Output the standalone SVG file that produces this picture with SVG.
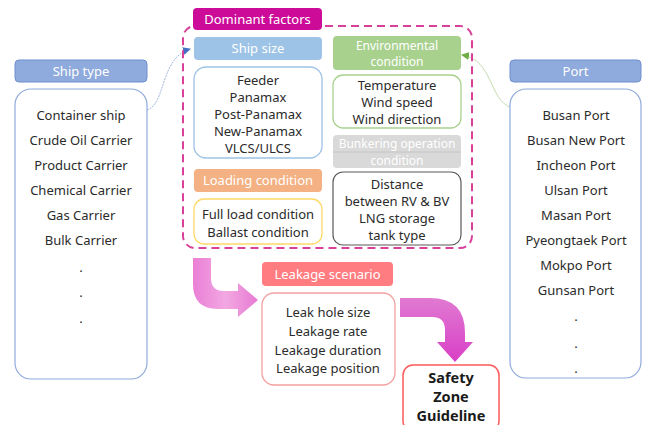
<svg xmlns="http://www.w3.org/2000/svg" width="650" height="425" viewBox="0 0 650 425">
<defs>
<style>
.t{font-family:"Noto Sans","Open Sans",sans-serif;font-size:13px;fill:#2b2b2b;text-anchor:middle}
.h{font-family:"Noto Sans","Open Sans",sans-serif;font-size:13px;fill:#ffffff;text-anchor:middle}
.h2{font-family:"Noto Sans","Open Sans",sans-serif;font-size:12px;fill:#ffffff;text-anchor:middle}
.b{font-family:"Noto Sans","Open Sans",sans-serif;font-size:14.5px;font-weight:bold;fill:#1a1a1a;text-anchor:middle}
</style>
<linearGradient id="g1" x1="0" y1="0" x2="1" y2="0">
<stop offset="0" stop-color="#ea7fd6"/><stop offset="0.5" stop-color="#f2a8e2"/><stop offset="1" stop-color="#e77ad3"/>
</linearGradient>
<linearGradient id="g2" x1="0" y1="0" x2="0" y2="1">
<stop offset="0" stop-color="#e07ad2"/><stop offset="1" stop-color="#d93fc6"/>
</linearGradient>
<marker id="mb" markerWidth="8" markerHeight="8" refX="7" refY="4" orient="auto" markerUnits="userSpaceOnUse">
<path d="M0,0 L8,4 L0,8 Z" fill="#4472c4"/>
</marker>
<marker id="mg" markerWidth="8" markerHeight="8" refX="7" refY="4" orient="auto" markerUnits="userSpaceOnUse">
<path d="M0,0 L8,4 L0,8 Z" fill="#70ad47"/>
</marker>
</defs>
<rect width="650" height="425" fill="#ffffff"/>

<g id="connectors">
<path d="M147,110 C166,104 160,58 190,49" fill="none" stroke="#9fb4dc" stroke-width="1" stroke-dasharray="2,1" marker-end="url(#mb)"/>
<path d="M512,108 C488,100 494,60 462,55" fill="none" stroke="#c5dcb0" stroke-width="1" marker-end="url(#mg)"/>
<path d="M193,258 L211,258 L211,278 Q211,291 224,291 L238,291 L238,283 L258,300 L238,317 L238,309 L218,309 Q193,309 193,284 Z" fill="url(#g1)"/>
<path d="M400,298 L430,298 Q465,298 465,333 L465,342 L473,342 L455,362 L437,342 L445,342 L445,330 Q445,317 432,317 L400,317 Z" fill="url(#g2)"/>
</g>

<g id="dominant">
<rect x="183" y="26" width="289" height="222" rx="12" fill="none" stroke="#d9409a" stroke-width="2" stroke-dasharray="8,5"/>
<rect x="193" y="8" width="129" height="22" rx="4" fill="#cc0c99"/>
<text class="h" x="257.5" y="24">Dominant factors</text>
</g>

<g id="ship-type">
<rect x="15" y="60" width="132" height="22" rx="4" fill="#8faadc" stroke="#6f8fcf" stroke-width="1"/>
<text class="h" x="81" y="76">Ship type</text>
<rect x="15" y="89" width="132" height="290" rx="16" fill="#ffffff" stroke="#8faadc" stroke-width="1.2"/>
<text class="t" x="81" y="120">Container ship</text>
<text class="t" x="81" y="145">Crude Oil Carrier</text>
<text class="t" x="81" y="170">Product Carrier</text>
<text class="t" x="81" y="195">Chemical Carrier</text>
<text class="t" x="81" y="220">Gas Carrier</text>
<text class="t" x="81" y="245">Bulk Carrier</text>
<text class="t" x="81" y="272">.</text>
<text class="t" x="81" y="297">.</text>
<text class="t" x="81" y="323">.</text>
</g>

<g id="port">
<rect x="510" y="60" width="131" height="22" rx="4" fill="#8faadc" stroke="#6f8fcf" stroke-width="1"/>
<text class="h" x="575.5" y="76">Port</text>
<rect x="510" y="89" width="131" height="289" rx="16" fill="#ffffff" stroke="#8faadc" stroke-width="1.2"/>
<text class="t" x="576" y="120">Busan Port</text>
<text class="t" x="576" y="145">Busan New Port</text>
<text class="t" x="576" y="170">Incheon Port</text>
<text class="t" x="576" y="195">Ulsan Port</text>
<text class="t" x="576" y="220">Masan Port</text>
<text class="t" x="576" y="245">Pyeongtaek Port</text>
<text class="t" x="576" y="270">Mokpo Port</text>
<text class="t" x="576" y="295">Gunsan Port</text>
<text class="t" x="576" y="321">.</text>
<text class="t" x="576" y="348">.</text>
<text class="t" x="576" y="373">.</text>
</g>

<g id="ship-size">
<rect x="194" y="37" width="128" height="23" rx="4" fill="#9dc3e6"/>
<text class="h" x="258" y="53">Ship size</text>
<rect x="194" y="67" width="128" height="91" rx="12" fill="#ffffff" stroke="#9dc3e6" stroke-width="1.3"/>
<text class="t" x="258" y="85">Feeder</text>
<text class="t" x="258" y="102">Panamax</text>
<text class="t" x="258" y="119">Post-Panamax</text>
<text class="t" x="258" y="136">New-Panamax</text>
<text class="t" x="258" y="153">VLCS/ULCS</text>
</g>

<g id="loading">
<rect x="194" y="169" width="128" height="23" rx="4" fill="#f4b183"/>
<text class="h" x="258" y="185">Loading condition</text>
<rect x="194" y="199" width="128" height="45" rx="10" fill="#ffffff" stroke="#ffd966" stroke-width="1.3"/>
<text class="t" x="258" y="219">Full load condition</text>
<text class="t" x="258" y="237">Ballast condition</text>
</g>

<g id="environment">
<rect x="333" y="36" width="128" height="34" rx="4" fill="#a9d18e"/>
<text class="h2" x="397" y="50">Environmental</text>
<text class="h2" x="397" y="66">condition</text>
<rect x="333" y="75" width="128" height="53" rx="10" fill="#ffffff" stroke="#a9d18e" stroke-width="1.3"/>
<text class="t" x="397" y="90">Temperature</text>
<text class="t" x="397" y="107">Wind speed</text>
<text class="t" x="397" y="124">Wind direction</text>
</g>

<g id="bunkering">
<rect x="333" y="135" width="128" height="33" rx="4" fill="#d9d9d9"/>
<line x1="333" y1="152" x2="461" y2="152" stroke="#bfbfbf" stroke-width="0.8"/>
<text class="h2" x="397" y="148">Bunkering operation</text>
<text class="h2" x="397" y="165">condition</text>
<rect x="333" y="172" width="128" height="73" rx="10" fill="#ffffff" stroke="#595959" stroke-width="1.2"/>
<text class="t" x="397" y="189">Distance</text>
<text class="t" x="397" y="206">between RV &amp; BV</text>
<text class="t" x="397" y="223">LNG storage</text>
<text class="t" x="397" y="240">tank type</text>
</g>

<g id="leakage">
<rect x="262" y="262" width="131" height="24" rx="4" fill="#ff7c80"/>
<text class="h" x="327.5" y="279">Leakage scenario</text>
<rect x="262" y="293" width="133" height="92" rx="12" fill="#ffffff" stroke="#f4a0a0" stroke-width="1.3"/>
<text class="t" x="328" y="317">Leak hole size</text>
<text class="t" x="328" y="336">Leakage rate</text>
<text class="t" x="328" y="355">Leakage duration</text>
<text class="t" x="328" y="373">Leakage position</text>
</g>

<g id="safety">
<rect x="403" y="365" width="96" height="66" rx="10" fill="#ffffff" stroke="#ff5a5a" stroke-width="1.5"/>
<text class="b" x="451" y="383">Safety</text>
<text class="b" x="451" y="402">Zone</text>
<text class="b" x="451" y="421">Guideline</text>
</g>
</svg>
